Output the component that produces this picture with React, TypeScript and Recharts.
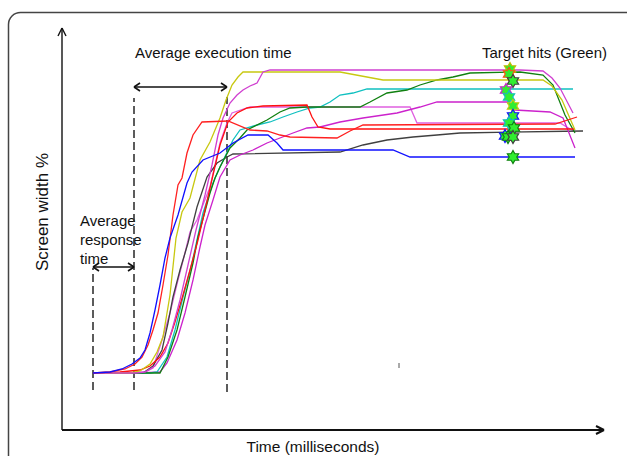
import React from 'react'
import { ComposedChart, Line, Scatter, XAxis, YAxis, ReferenceLine, Customized } from 'recharts'

// t = time units, v = screen width units
type Pt = [number, number]

const blueRun: Pt[] = [[31,57],[48,58],[60,61],[70,66],[78,72],[83,80],[88,97],[93,120],[98,145],[103,172],[108,192],[116,215],[125,247],[130,258],[141,270],[158,277],[171,287],[186,295],[206,295],[215,287],[221,280],[331,280],[348,273],[513,273]]
const redEarly: Pt[] = [[31,57],[48,58],[63,61],[73,66],[80,73],[86,85],[91,100],[96,117],[101,145],[106,175],[111,215],[116,245],[120,252],[125,277],[131,295],[140,308],[166,309],[188,300],[205,299],[218,295],[228,293],[275,292],[288,299],[301,305],[493,306],[515,313]]
const redLate: Pt[] = [[31,57],[58,58],[78,60],[88,64],[98,73],[106,87],[113,108],[121,135],[128,160],[136,190],[143,220],[151,255],[158,285],[166,308],[175,317],[185,322],[201,324],[245,325],[250,313],[256,303],[268,301],[513,301]]
const yellowRun: Pt[] = [[31,57],[68,57],[78,59],[88,66],[95,78],[101,93],[108,135],[114,192],[120,218],[128,232],[138,270],[148,288],[158,312],[164,330],[170,345],[176,353],[181,358],[278,358],[321,350],[481,350],[490,344],[500,330],[513,300]]
const magentaTop: Pt[] = [[31,57],[73,57],[83,58],[93,64],[103,78],[110,100],[118,130],[126,165],[134,200],[143,235],[150,265],[156,295],[161,312],[168,327],[175,335],[181,340],[188,344],[195,347],[201,358],[208,360],[458,360],[481,359],[490,352],[498,342],[511,317]]
const magentaMid: Pt[] = [[31,57],[68,57],[83,58],[91,62],[100,90],[108,117],[116,150],[123,177],[128,198],[135,210],[148,243],[153,265],[158,287],[165,307],[170,317],[188,323],[348,323],[355,307],[498,307],[513,298]]
const magentaLow: Pt[] = [[31,57],[78,57],[98,58],[105,67],[115,90],[123,117],[131,150],[138,183],[143,205],[151,230],[158,253],[168,270],[178,275],[191,280],[205,287],[218,292],[231,297],[245,302],[258,303],[278,308],[301,312],[335,317],[358,323],[375,328],[445,328],[453,320],[488,318],[501,312],[513,282]]
const cyanRun: Pt[] = [[31,57],[88,57],[95,58],[105,73],[113,100],[121,133],[130,167],[135,190],[141,217],[151,247],[158,263],[171,290],[178,300],[195,305],[208,308],[221,313],[235,318],[248,322],[258,323],[268,328],[278,335],[291,337],[305,341],[511,341]]
const greenRun: Pt[] = [[31,57],[98,57],[106,73],[115,100],[123,133],[131,167],[136,193],[142,215],[148,237],[153,252],[158,263],[168,282],[178,292],[185,300],[205,310],[218,318],[228,322],[245,323],[298,323],[308,328],[325,337],[345,340],[358,345],[375,350],[391,353],[408,357],[458,358],[481,355],[491,345],[503,315],[513,297]]
const grayRun: Pt[] = [[31,57],[81,57],[91,64],[100,80],[106,107],[111,133],[118,160],[126,187],[135,223],[145,253],[155,267],[165,273],[171,276],[278,278],[301,285],[325,290],[351,293],[375,295],[398,297],[521,299]]

const series = [
  { name: 'magentaMid', pts: magentaMid, color: '#e060e0' },
  { name: 'grayRun', pts: grayRun, color: '#404040' },
  { name: 'magentaLow', pts: magentaLow, color: '#cc22cc' },
  { name: 'cyanRun', pts: cyanRun, color: '#10c0c0' },
  { name: 'greenRun', pts: greenRun, color: '#108010' },
  { name: 'redLate', pts: redLate, color: '#ff1010' },
  { name: 'yellowRun', pts: yellowRun, color: '#c8c810' },
  { name: 'magentaTop', pts: magentaTop, color: '#d040d0' },
  { name: 'redEarly', pts: redEarly, color: '#ff2020' },
  { name: 'blueRun', pts: blueRun, color: '#1010ff' },
]

// target hits: position + outline colour of the star
const hitT = [448, 447, 451, 444, 447, 451, 451, 447, 452, 443, 446, 451, 451]
const hitV = [361, 356, 349, 340, 333, 324, 314, 307, 302, 294, 293, 293, 273]
const hitColor = ['#c8b800', '#ff5010', '#404040', '#cc22cc', '#10c0c0', '#c8c810', '#1010ff', '#10c0c0', '#108010', '#1010ff', '#108010', '#404040', '#108010']

const hits = hitT.map((t, i) => ({ t, v: hitV[i], c: hitColor[i] }))
const toData = (pts: Pt[]) => pts.map(([t, v]) => ({ t, v }))

const FONT = '"Liberation Sans", Arial, sans-serif'

function HitStar(props: any) {
  const { cx, cy, payload } = props
  const R = 6.5
  const pts: string[] = []
  for (let k = 0; k < 12; k++) {
    const ang = (-90 + k * 30) * Math.PI / 180
    const r = k % 2 === 0 ? R : R / Math.sqrt(3)
    pts.push(`${cx + r * Math.cos(ang)},${cy + r * Math.sin(ang)}`)
  }
  return <polygon points={pts.join(' ')} fill="#30ee30" stroke={payload.c} strokeWidth={1.2} />
}

function Overlay() {
  return (
    <g fontFamily={FONT} fill="#111">
      <rect x={8.5} y={12.5} width={700} height={520} rx={12} fill="none" stroke="#444" strokeWidth={1.5} />
      <text x={135} y={58} fontSize={15}>Average execution time</text>
      <text x={482} y={58} fontSize={15}>Target hits (Green)</text>
      <text x={80} y={226} fontSize={15}>Average</text>
      <text x={80} y={245} fontSize={15}>response</text>
      <text x={80} y={264} fontSize={15}>time</text>
      <text x={313} y={452} fontSize={15.5} textAnchor="middle">Time (milliseconds)</text>
      <text transform="translate(48,212) rotate(-90)" fontSize={17} textAnchor="middle">Screen width %</text>
    </g>
  )
}

type Seg = [number, number, number, number]
const axisSegs: Seg[] = [[0, 0, 542, 0], [534, 4, 542, 0], [534, -4, 542, 0], [0, 0, 0, 402], [-4, 394, 0, 402], [4, 394, 0, 402]]
const arrowSegs: Seg[] = [
  [72, 343, 165, 343], [78, 347, 72, 343], [78, 339, 72, 343], [159, 347, 165, 343], [159, 339, 165, 343],
  [31, 163, 72, 163], [37, 167, 31, 163], [37, 159, 31, 163], [66, 167, 72, 163], [66, 159, 72, 163],
]
const dashSegs: Seg[] = [[31, 40, 31, 162], [72, 40, 72, 332], [165, 38, 165, 333]]

export default function App() {
  return (
    <div style={{ position: 'absolute', left: 0, top: 0, width: 627, height: 456, background: '#fff' }}>
      <ComposedChart width={627} height={456} margin={{ top: 28, right: 23, bottom: 26, left: 62 }}>
        <XAxis type="number" dataKey="t" domain={[0, 542]} hide allowDataOverflow />
        <YAxis type="number" dataKey="v" domain={[0, 402]} hide allowDataOverflow />
        <Customized component={Overlay} />
        {dashSegs.map((s, i) => (
          <ReferenceLine key={'d' + i} segment={[{ x: s[0], y: s[1] }, { x: s[2], y: s[3] }]} stroke="#333" strokeWidth={1.6} strokeDasharray="8 4" ifOverflow="visible" />
        ))}
        <ReferenceLine segment={[{ x: 337, y: 62 }, { x: 337, y: 67 }]} stroke="#555" strokeWidth={1} ifOverflow="visible" />
        {series.map(s => (
          <Line key={s.name} data={toData(s.pts)} dataKey="v" type="linear" stroke={s.color} strokeWidth={1.3} dot={false} activeDot={false} isAnimationActive={false} />
        ))}
        <Scatter data={hits} dataKey="v" shape={HitStar} isAnimationActive={false} />
        {axisSegs.map((s, i) => (
          <ReferenceLine key={'a' + i} segment={[{ x: s[0], y: s[1] }, { x: s[2], y: s[3] }]} stroke="#111" strokeWidth={i < 3 ? 2 : 1.4} ifOverflow="visible" />
        ))}
        {arrowSegs.map((s, i) => (
          <ReferenceLine key={'r' + i} segment={[{ x: s[0], y: s[1] }, { x: s[2], y: s[3] }]} stroke="#111" strokeWidth={1.6} ifOverflow="visible" />
        ))}
      </ComposedChart>
    </div>
  )
}
